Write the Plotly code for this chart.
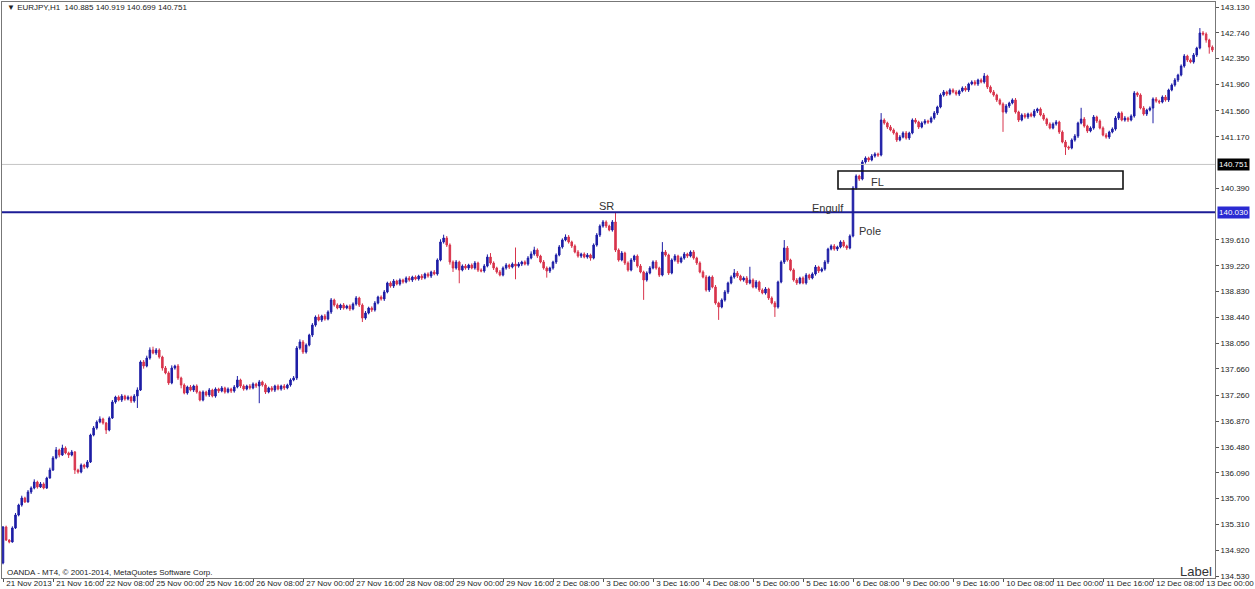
import plotly.graph_objects as go

# ---------------- data (EURJPY H1) ----------------
first_open = 134.727
closes = [
    135.271, 135.074, 135.044, 135.256, 135.452, 135.603, 135.709, 135.649, 135.800, 135.860, 135.951, 135.875, 135.921, 135.860, 136.011, 136.132,
    136.314, 136.435, 136.359, 136.465, 136.390, 136.359, 136.405, 136.132, 136.102, 136.207, 136.177, 136.253, 136.661, 136.767, 136.858, 136.903,
    136.843, 136.737, 136.918, 137.160, 137.235, 137.190, 137.250, 137.205, 137.235, 137.175, 137.250, 137.341, 137.765, 137.704, 137.825, 137.946,
    137.901, 137.946, 137.840, 137.674, 137.599, 137.448, 137.674, 137.704, 137.523, 137.417, 137.296, 137.387, 137.341, 137.402, 137.311, 137.190,
    137.311, 137.266, 137.341, 137.250, 137.356, 137.326, 137.372, 137.311, 137.356, 137.326, 137.387, 137.493, 137.402, 137.356, 137.402, 137.372,
    137.432, 137.402, 137.463, 137.417, 137.311, 137.372, 137.341, 137.402, 137.356, 137.402, 137.372, 137.417, 137.493, 137.523, 137.976, 138.067,
    137.916, 138.021, 138.172, 138.323, 138.444, 138.399, 138.459, 138.414, 138.521, 138.702, 138.626, 138.581, 138.626, 138.581, 138.611, 138.566,
    138.641, 138.732, 138.626, 138.429, 138.505, 138.581, 138.551, 138.656, 138.747, 138.717, 138.823, 138.959, 138.913, 138.989, 138.943, 139.004,
    138.974, 139.034, 139.004, 139.049, 139.019, 139.064, 139.034, 139.095, 139.064, 139.125, 139.095, 139.306, 139.579, 139.639, 139.533, 139.276,
    139.185, 139.276, 139.155, 139.215, 139.185, 139.230, 139.185, 139.261, 139.155, 139.140, 139.215, 139.351, 139.261, 139.185, 139.125, 139.079,
    139.185, 139.230, 139.200, 139.245, 139.215, 139.245, 139.276, 139.245, 139.336, 139.397, 139.457, 139.366, 139.276, 139.185, 139.140, 139.185,
    139.276, 139.382, 139.503, 139.609, 139.654, 139.579, 139.518, 139.427, 139.366, 139.397, 139.351, 139.382, 139.336, 139.533, 139.684, 139.820,
    139.881, 139.820, 139.760, 139.881, 139.457, 139.306, 139.412, 139.261, 139.155, 139.306, 139.366, 139.215, 139.125, 139.004, 139.110, 139.185,
    139.276, 139.185, 139.079, 139.427, 139.382, 139.110, 139.306, 139.366, 139.276, 139.336, 139.397, 139.366, 139.427, 139.336, 139.261, 139.125,
    139.049, 138.853, 139.049, 138.898, 138.656, 138.596, 138.702, 138.823, 138.959, 139.049, 139.110, 139.064, 139.004, 139.034, 138.959, 139.004,
    138.898, 138.974, 138.853, 138.808, 138.868, 138.732, 138.656, 138.596, 138.974, 139.276, 139.488, 139.306, 139.155, 139.004, 138.959, 139.034,
    138.959, 139.079, 139.034, 139.095, 139.200, 139.140, 139.170, 139.276, 139.472, 139.518, 139.472, 139.503, 139.579, 139.518, 139.488, 139.669,
    140.394, 140.576, 140.530, 140.788, 140.848, 140.818, 140.878, 140.909, 140.893, 141.422, 141.377, 141.316, 141.271, 141.226, 141.120, 141.165,
    141.226, 141.150, 141.226, 141.422, 141.392, 141.316, 141.377, 141.407, 141.392, 141.452, 141.528, 141.619, 141.800, 141.846, 141.815, 141.876,
    141.846, 141.815, 141.861, 141.906, 141.876, 141.967, 141.997, 141.967, 142.027, 141.997, 142.087, 141.921, 141.846, 141.800, 141.725, 141.664,
    141.543, 141.634, 141.679, 141.725, 141.543, 141.422, 141.498, 141.468, 141.513, 141.483, 141.558, 141.588, 141.498, 141.437, 141.362, 141.301,
    141.362, 141.392, 141.241, 141.090, 141.014, 140.999, 141.120, 141.180, 141.377, 141.437, 141.331, 141.256, 141.301, 141.468, 141.407, 141.301,
    141.195, 141.165, 141.241, 141.286, 141.452, 141.528, 141.422, 141.452, 141.422, 141.483, 141.830, 141.800, 141.603, 141.513, 141.573, 141.603,
    141.740, 141.709, 141.694, 141.770, 141.725, 141.876, 141.951, 142.027, 142.102, 142.238, 142.389, 142.329, 142.299, 142.405, 142.510, 142.737,
    142.722, 142.631, 142.525, 142.480,
]
# wick lengths above / below the body, in thousandths of a yen
upper_wick_milli = [
    15, 20, 10, 25, 30, 20, 35, 20, 30, 25, 40, 20, 30, 25, 20, 35,
    30, 45, 20, 50, 25, 20, 30, 15, 20, 25, 20, 30, 20, 30, 25, 40,
    20, 15, 25, 30, 20, 25, 30, 20, 25, 20, 30, 40, 25, 30, 35, 40,
    50, 30, 25, 20, 30, 25, 40, 20, 30, 20, 25, 20, 30, 20, 25, 20,
    25, 20, 30, 20, 25, 20, 30, 20, 25, 20, 30, 60, 20, 25, 20, 30,
    25, 20, 30, 20, 25, 20, 30, 20, 25, 20, 30, 20, 25, 30, 30, 40,
    30, 25, 20, 30, 25, 40, 20, 30, 25, 30, 20, 25, 20, 30, 20, 25,
    25, 30, 20, 25, 30, 20, 25, 30, 20, 25, 30, 20, 25, 30, 20, 25,
    20, 25, 30, 20, 25, 20, 30, 20, 25, 20, 30, 25, 40, 50, 30, 25,
    25, 30, 20, 25, 30, 20, 25, 30, 20, 25, 30, 40, 60, 25, 20, 30,
    25, 30, 20, 25, 250, 30, 20, 25, 30, 40, 50, 25, 20, 30, 25, 20,
    20, 25, 30, 25, 40, 30, 20, 25, 30, 20, 25, 30, 20, 25, 30, 25,
    30, 25, 20, 30, 136, 25, 30, 20, 25, 30, 20, 25, 30, 20, 25, 30,
    25, 30, 20, 150, 30, 20, 25, 30, 20, 25, 30, 20, 25, 30, 20, 25,
    25, 30, 20, 25, 30, 20, 25, 30, 20, 25, 60, 30, 20, 25, 30, 200,
    25, 30, 20, 25, 30, 20, 25, 30, 20, 25, 120, 30, 20, 25, 30, 20,
    25, 30, 20, 25, 30, 20, 25, 30, 20, 25, 30, 20, 25, 30, 20, 25,
    30, 25, 20, 30, 25, 20, 30, 25, 20, 105, 25, 20, 30, 25, 20, 30,
    25, 30, 20, 25, 30, 20, 25, 30, 20, 25, 30, 20, 25, 30, 20, 25,
    25, 30, 20, 25, 30, 20, 25, 30, 20, 25, 45, 20, 25, 30, 20, 25,
    25, 30, 20, 25, 30, 20, 25, 30, 20, 25, 30, 20, 25, 30, 20, 25,
    25, 30, 20, 25, 30, 20, 25, 30, 20, 170, 30, 20, 25, 30, 20, 25,
    25, 30, 20, 25, 30, 20, 25, 30, 20, 25, 30, 20, 25, 30, 20, 25,
    25, 30, 20, 25, 30, 20, 25, 30, 20, 25, 30, 20, 25, 30, 20, 75,
    30, 25, 20, 25,
]
lower_wick_milli = [
    20, 15, 20, 10, 15, 20, 25, 15, 10, 30, 20, 25, 15, 20, 15, 10,
    15, 20, 35, 15, 20, 45, 20, 60, 25, 20, 30, 20, 15, 20, 25, 20,
    25, 60, 20, 15, 25, 20, 30, 25, 20, 30, 25, 180, 15, 40, 20, 25,
    20, 30, 25, 40, 20, 30, 20, 25, 30, 50, 20, 25, 20, 30, 25, 20,
    20, 25, 30, 20, 25, 30, 20, 25, 20, 30, 25, 20, 30, 25, 20, 25,
    20, 30, 260, 25, 30, 20, 25, 30, 20, 25, 30, 20, 25, 20, 30, 25,
    30, 25, 20, 30, 25, 20, 30, 25, 20, 30, 25, 20, 30, 25, 20, 30,
    20, 25, 30, 60, 25, 20, 30, 25, 20, 25, 30, 20, 25, 30, 20, 25,
    25, 20, 25, 30, 20, 25, 30, 20, 25, 30, 20, 25, 20, 25, 30, 40,
    60, 25, 200, 20, 25, 30, 20, 25, 30, 20, 25, 20, 25, 30, 25, 20,
    20, 25, 30, 20, 200, 25, 30, 20, 25, 20, 25, 30, 20, 25, 100, 30,
    25, 30, 20, 25, 20, 25, 30, 20, 25, 30, 20, 25, 40, 20, 25, 30,
    25, 30, 20, 25, 30, 25, 20, 30, 25, 20, 30, 25, 20, 300, 25, 20,
    20, 25, 30, 20, 25, 30, 20, 25, 30, 20, 25, 30, 20, 25, 30, 20,
    20, 25, 30, 20, 25, 195, 20, 25, 30, 20, 25, 30, 20, 25, 30, 20,
    20, 25, 30, 20, 25, 30, 20, 150, 25, 20, 30, 25, 20, 25, 30, 20,
    20, 25, 30, 20, 25, 30, 20, 25, 30, 20, 25, 30, 20, 25, 30, 20,
    20, 25, 30, 20, 25, 30, 20, 25, 30, 20, 25, 30, 20, 25, 30, 20,
    20, 25, 30, 20, 25, 30, 20, 25, 30, 20, 25, 30, 20, 25, 30, 20,
    20, 25, 30, 20, 25, 30, 20, 25, 30, 20, 25, 30, 20, 25, 30, 20,
    300, 25, 30, 20, 25, 30, 20, 25, 30, 20, 25, 30, 20, 25, 30, 20,
    20, 25, 30, 20, 120, 30, 20, 25, 30, 20, 25, 30, 20, 25, 30, 20,
    20, 25, 30, 20, 25, 30, 20, 25, 30, 20, 25, 30, 20, 25, 30, 20,
    230, 25, 30, 20, 25, 30, 20, 25, 30, 20, 25, 30, 20, 25, 30, 20,
    25, 40, 100, 30,
]
bars_per_label = 16
x_tick_labels = [
    "21 Nov 2013", "21 Nov 16:00", "22 Nov 08:00", "25 Nov 00:00", "25 Nov 16:00",
    "26 Nov 08:00", "27 Nov 00:00", "27 Nov 16:00", "28 Nov 08:00", "29 Nov 00:00",
    "29 Nov 16:00", "2 Dec 08:00", "3 Dec 00:00", "3 Dec 16:00", "4 Dec 08:00",
    "5 Dec 00:00", "5 Dec 16:00", "6 Dec 08:00", "9 Dec 00:00", "9 Dec 16:00",
    "10 Dec 08:00", "11 Dec 00:00", "11 Dec 16:00", "12 Dec 08:00", "13 Dec 00:00",
]
y_tick_values = [143.130, 142.740, 142.350, 141.960, 141.560, 141.170, 140.390,
                 139.610, 139.220, 138.830, 138.440, 138.050, 137.660, 137.260,
                 136.870, 136.480, 136.090, 135.700, 135.310, 134.920, 134.530]
current_price = 140.751
sr_level = 140.030
fl_zone = [140.379, 140.652]          # price bounds of the FL box
fl_zone_bars = [267.2, 358.4]          # bar span of the FL box
chart_notes = [                        # (text, bar position, price, anchor)
    ("SR", 193.0, 140.123, "center"),
    ("Engulf", 264.0, 140.092, "center"),
    ("Pole", 273.3, 139.745, "left"),
    ("FL", 277.1, 140.485, "left"),
]
header_text = "\u25bc EURJPY,H1  140.885 140.919 140.699 140.751"
footer_text = "OANDA - MT4, \u00a9 2001-2014, MetaQuotes Software Corp."

# ---------------- build ----------------
n = len(closes)
xs = list(range(n))
opens = [first_open] + closes[:-1]
highs = [max(o, c) + u / 1000 for o, c, u in zip(opens, closes, upper_wick_milli)]
lows = [min(o, c) - w / 1000 for o, c, w in zip(opens, closes, lower_wick_milli)]

BLUE = "#1e1ea6"
RED = "#d8344c"
FONT = "Liberation Sans"

fig = go.Figure(go.Candlestick(
    x=xs, open=opens, high=highs, low=lows, close=closes,
    increasing=dict(line=dict(color=BLUE, width=1), fillcolor=BLUE),
    decreasing=dict(line=dict(color=RED, width=1), fillcolor=RED),
    whiskerwidth=0, hoverinfo="skip", showlegend=False,
))

tickvals_x = [i * bars_per_label for i in range(len(x_tick_labels))]

fig.update_layout(
    width=1255, height=589,
    margin=dict(l=2, r=40, t=2, b=11, autoexpand=False),
    paper_bgcolor="white", plot_bgcolor="white",
    font=dict(family=FONT, size=8, color="#222"),
    showlegend=False,
    xaxis=dict(
        range=[-0.32, 387.84], rangeslider=dict(visible=False),
        tickvals=tickvals_x, ticktext=["\u00a0" + t for t in x_tick_labels], tickangle=0,
        ticks="outside", ticklen=3, tickcolor="#555",
        ticklabelposition="outside right", ticklabelstandoff=-3,
        automargin=False,
        showgrid=False, zeroline=False,
        showline=True, linecolor="#777", linewidth=1, mirror=True,
        tickfont=dict(size=8, family=FONT, color="#222"),
    ),
    yaxis=dict(
        range=[134.500, 143.206], side="right", automargin=False,
        tickvals=y_tick_values, ticktext=[f"{v:.3f}" for v in y_tick_values],
        ticks="outside", ticklen=3, tickcolor="#555",
        showgrid=False, zeroline=False,
        showline=True, linecolor="#777", linewidth=1, mirror=True,
        tickfont=dict(size=8, family=FONT, color="#222"),
    ),
)

# horizontal levels
fig.add_shape(type="line", xref="paper", x0=0, x1=1, yref="y",
              y0=current_price, y1=current_price, line=dict(color="#c4c4c4", width=1))
fig.add_shape(type="line", xref="paper", x0=0, x1=1, yref="y",
              y0=sr_level, y1=sr_level, line=dict(color="#1c1c96", width=2))
# FL rectangle
fig.add_shape(type="rect", xref="x", yref="y",
              x0=fl_zone_bars[0], x1=fl_zone_bars[1], y0=fl_zone[0], y1=fl_zone[1],
              line=dict(color="#111", width=1.6), fillcolor="rgba(0,0,0,0)")

# price tags on the axis
fig.add_annotation(xref="paper", x=1, xanchor="left", xshift=2, yref="y", y=current_price,
                   text=f"{current_price:.3f}", showarrow=False, bgcolor="#000",
                   font=dict(color="white", size=8, family=FONT), borderpad=1)
fig.add_annotation(xref="paper", x=1, xanchor="left", xshift=2, yref="y", y=sr_level,
                   text=f"{sr_level:.3f}", showarrow=False, bgcolor="#2a2ad2",
                   font=dict(color="white", size=8, family=FONT), borderpad=1)

for txt, bx, py, anchor in chart_notes:
    fig.add_annotation(x=bx, y=py, text=txt, showarrow=False, xanchor=anchor,
                       yanchor="middle", font=dict(size=11, family=FONT, color="#333"))

fig.add_annotation(xref="paper", yref="paper", x=0.0025, y=0.991, xanchor="left",
                   yanchor="middle", text=header_text, showarrow=False,
                   font=dict(size=8, family=FONT, color="#222"))
fig.add_annotation(xref="paper", yref="paper", x=0.0025, y=0.0104, xanchor="left",
                   yanchor="middle", text=footer_text, showarrow=False,
                   font=dict(size=8, family=FONT, color="#222"))
fig.add_annotation(xref="paper", yref="paper", x=0.999, y=0.012, xanchor="right",
                   yanchor="middle", text="Label", showarrow=False,
                   font=dict(size=13, family=FONT, color="#333"))

fig.write_html(
    "out.html",
    config={"displayModeBar": False},
    post_script="document.body.style.margin='0';document.body.style.overflow='hidden';",
)
